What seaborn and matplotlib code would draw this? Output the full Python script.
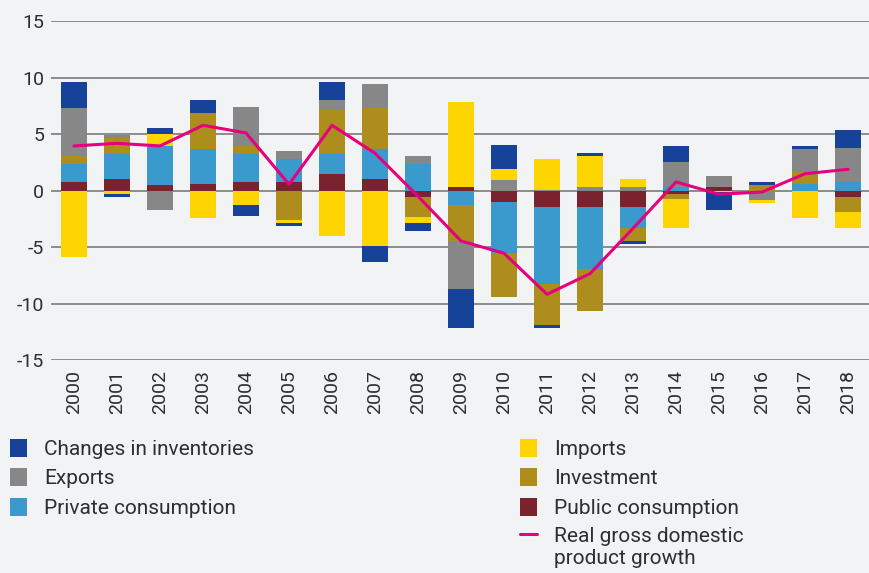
import numpy as np
import matplotlib
matplotlib.use("Agg")
import matplotlib.pyplot as plt
import seaborn as sns
from matplotlib.patches import Patch
from matplotlib.lines import Line2D
from matplotlib.legend_handler import HandlerLine2D

years = [str(y) for y in range(2000, 2019)]

public_consumption = [0.74, 1.03, 0.47, 0.56, 0.74, 0.74, 1.45, 1.00, -0.59, 0.30,
                      -1.03, -1.48, -1.48, -1.48, -0.32, 0.30, 0.0, 0.0, -0.59]
private_consumption = [1.62, 2.22, 3.46, 3.10, 2.51, 2.04, 1.77, 2.66, 2.33, -1.30,
                       -4.52, -6.82, -5.49, -1.83, 0.30, 0.0, 0.0, 0.56, 0.74]
investment = [0.71, 1.41, 0.0, 3.19, 0.68, -2.63, 3.90, 3.63, -1.77, -3.19,
              -3.90, -3.63, -3.72, -1.18, -0.45, 0.0, 0.47, 1.06, -1.33]
exports = [4.22, 0.24, -1.74, 0.0, 3.45, 0.70, 0.88, 2.13, 0.71, -4.25,
           0.92, 0.10, 0.30, 0.30, 2.21, 0.97, -0.86, 2.04, 3.01]
imports = [-5.88, -0.32, 1.06, -2.42, -1.30, -0.26, -4.04, -4.93, -0.53, 7.52,
           0.97, 2.68, 2.74, 0.71, -2.57, -0.15, -0.26, -2.45, -1.42]
inventories = [2.30, -0.27, 0.53, 1.15, -0.97, -0.27, 1.60, -1.42, -0.71, -3.45,
               2.13, -0.26, 0.27, -0.26, 1.42, -1.59, 0.27, 0.27, 1.59]
gdp_growth = [3.96, 4.19, 3.96, 5.79, 5.11, 0.56, 5.79, 3.31, -0.50, -4.46,
              -5.55, -9.18, -7.35, -3.34, 0.77, -0.32, -0.12, 1.50, 1.89]

y_ticks = [-15, -10, -5, 0, 5, 10, 15]

series = [
    ("Public consumption", public_consumption, "#7A232E"),
    ("Private consumption", private_consumption, "#3A99CD"),
    ("Investment", investment, "#AD8E1C"),
    ("Exports", exports, "#878787"),
    ("Imports", imports, "#FFD500"),
    ("Changes in inventories", inventories, "#17429A"),
]
line_color = "#E6007E"
bg = "#F2F3F5"
text_color = "#2E2E2E"

sns.set_theme(style="white")
plt.rcParams["font.family"] = ["Roboto", "DejaVu Sans"]

fig = plt.figure(figsize=(8.7, 5.73), dpi=100, facecolor=bg)
ax = fig.add_axes([51 / 870, 1 - 360 / 573, 1 - 51 / 870, (360 - 21.3) / 573])
ax.set_facecolor(bg)

x = np.arange(len(years))
pos_base = np.zeros(len(years))
neg_base = np.zeros(len(years))
for name, vals, col in series:
    v = np.array(vals, dtype=float)
    bottoms = np.where(v >= 0, pos_base, neg_base)
    ax.bar(x, v, bottom=bottoms, width=0.6, color=col, linewidth=0, zorder=3)
    pos_base = pos_base + np.where(v >= 0, v, 0)
    neg_base = neg_base + np.where(v < 0, v, 0)

sns.lineplot(x=x, y=gdp_growth, ax=ax, color=line_color, linewidth=2.2, zorder=4)

ax.set_ylim(-15, 15)
ax.set_xlim(-0.535, 18.51)
ax.set_yticks(y_ticks)
ax.set_yticklabels([str(t) for t in y_ticks])
ax.set_xticks(x)
ax.set_xticklabels(years, rotation=90)
ax.yaxis.grid(True, color="#8C8C8C", linewidth=1.4, zorder=0)
ax.xaxis.grid(False)
for s in ax.spines.values():
    s.set_visible(False)
ax.tick_params(axis="both", length=0, labelsize=14, colors=text_color)
ax.tick_params(axis="y", pad=5)
ax.tick_params(axis="x", pad=7)


class HandlerTopLine(HandlerLine2D):
    def create_artists(self, legend, orig_handle, xdescent, ydescent, width,
                       height, fontsize, trans):
        artists = super().create_artists(legend, orig_handle, xdescent, ydescent,
                                         width, height, fontsize, trans)
        for a in artists:
            yd = np.asarray(a.get_ydata(), dtype=float)
            a.set_ydata(yd + 0.6 * fontsize)
        return artists


color_map = {n: c for n, _, c in series}
left_labels = ["Changes in inventories", "Exports", "Private consumption"]
right_labels = ["Imports", "Investment", "Public consumption"]

leg_kw = dict(frameon=False, labelspacing=0.44, handlelength=0.8,
              handleheight=0.95, handletextpad=0.85, borderaxespad=0, borderpad=0,
              labelcolor=text_color, prop={"size": 15})
h1 = [Patch(facecolor=color_map[l], edgecolor="none") for l in left_labels]
leg1 = fig.legend(h1, left_labels, loc="upper left",
                  bbox_to_anchor=(10 / 870, 1 - 439 / 573), **leg_kw)
line_handle = Line2D([0], [0], color=line_color, linewidth=2.2)
h2 = [Patch(facecolor=color_map[l], edgecolor="none") for l in right_labels]
h2.append(line_handle)
labels2 = right_labels + ["Real gross domestic\nproduct growth"]
leg2 = fig.legend(h2, labels2, loc="upper left",
                  bbox_to_anchor=(520 / 870, 1 - 439 / 573),
                  handler_map={line_handle: HandlerTopLine()}, **leg_kw)

fig.savefig("out.png", dpi=100, facecolor=bg)
